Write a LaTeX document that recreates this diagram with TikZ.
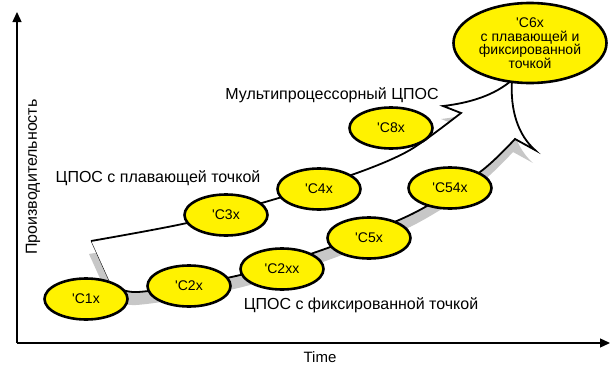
\documentclass[tikz,border=0pt]{standalone}
\usepackage{fontspec}
\setmainfont{Liberation Sans}
\usetikzlibrary{shapes.geometric,arrows.meta}

\tikzset{
  chip/.style={ellipse, draw, line width=2.6pt, fill=yellow, minimum width=83pt,
    minimum height=41pt, inner sep=0pt, font=\fontsize{14}{14}\selectfont},
  note/.style={font=\fontsize{16}{17}\selectfont},
  axis/.style={line width=1.3pt, -{Triangle[length=10pt,width=9pt]}},
  edge/.style={line width=1.8pt, line join=miter},
}
\newcommand{\tick}{\textquotesingle}
% outline of the wide curved arrow
\newcommand{\arrowoutline}{
  plot[smooth] coordinates {(91,241) (187,223) (272,200) (357,173) (410,150) (461,113)}
  -- (443,106) .. controls (470,103) and (495,95) .. (512,80)
  .. controls (510,110) and (518,135) .. (535,150)
  -- (515,139)
  -- plot[smooth] coordinates {(515,139) (480,172) (412,214) (322,250) (236,276) (138,292) (110,283)}}

\begin{document}
\begin{tikzpicture}[x=1pt, y=-1pt]
  \useasboundingbox (0,0) rectangle (611,367);

  % axes
  \coordinate (origin) at (17,343);
  \coordinate (ytop) at (17,12);
  \coordinate (xend) at (610,343);
  \draw[axis] (origin) -- (ytop);
  \draw[axis] (origin) -- (xend);
  \node[note, rotate=90] (ylbl) at (33,177) {Производительность};
  \node[note, font=\fontsize{15}{16}\selectfont] (xlbl) at (320,357) {Time};

  % arrow with its shadow
  \fill[black!22, shift={(-2,13)}] \arrowoutline;
  \fill[white] \arrowoutline;
  \draw[edge] \arrowoutline;
  \draw[thin] (91,241) -- (110,283);

  % processors
  \node[chip] (c1) at (86,299) {\tick C1x};
  \node[chip] (c2) at (189,286) {\tick C2x};
  \node[chip] (c2xx) at (282,269) {\tick C2xx};
  \node[chip] (c5) at (369,238) {\tick C5x};
  \node[chip] (c54) at (450,188) {\tick C54x};
  \node[chip] (c3) at (226,215) {\tick C3x};
  \node[chip] (c4) at (319,189) {\tick C4x};
  \node[chip] (c8) at (391,128) {\tick C8x};
  \node[chip, minimum width=153pt, minimum height=80pt, inner xsep=-6pt,
    inner ysep=-2pt, align=center, font=\fontsize{14}{13.5}\selectfont] (c6) at (530,43)
    {\tick C6x\\с плавающей и\\фиксированной\\точкой};

  % family labels
  \node[note] (fltlbl) at (158,178) {ЦПОС с плавающей точкой};
  \node[note] (mplbl) at (332,95) {Мультипроцессорный ЦПОС};
  \node[note] (fixlbl) at (361,305) {ЦПОС с фиксированной точкой};
\end{tikzpicture}
\end{document}
